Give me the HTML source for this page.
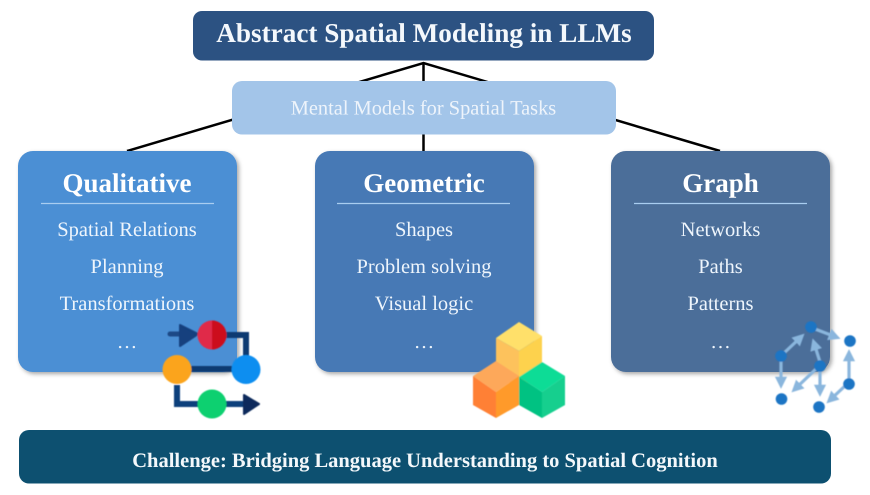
<!DOCTYPE html>
<html><head><meta charset="utf-8"><style>
html,body{margin:0;padding:0;background:#fff}
svg{display:block}
text{font-family:"Liberation Serif",serif;text-anchor:middle;text-rendering:geometricPrecision}
</style></head><body>
<svg width="870" height="495" viewBox="0 0 870 495" xmlns="http://www.w3.org/2000/svg">
<defs>
<filter id="s" x="-10%" y="-10%" width="125%" height="125%"><feDropShadow dx="2" dy="2" stdDeviation="2" flood-color="#000" flood-opacity=".35"/></filter>
<marker id="a" viewBox="0 0 10 10" refX="6" refY="5" markerWidth="3.800" markerHeight="3.800" orient="auto"><path d="M0 0L10 5L0 10z" fill="#8ab6dd"/></marker>
<filter id="b" x="-5%" y="-5%" width="110%" height="110%"><feGaussianBlur stdDeviation=".5"/></filter>
</defs>
<rect width="870" height="495" fill="#fff"/>
<g stroke="#000" stroke-width="2.500" fill="none">
<path d="M127 151L423.500 63L720 151"/><path d="M423.500 63V151"/>
</g>
<rect x="193" y="11" width="461" height="49.500" rx="9" fill="#2c5282"/>
<text x="424" y="42" font-size="27.200" font-weight="700" fill="#f4f8fc">Abstract Spatial Modeling in LLMs</text>
<rect x="232" y="81" width="384" height="53.500" rx="10" fill="#a3c5e9"/>
<text x="423.500" y="114.500" font-size="20.400" fill="#eef4fb">Mental Models for Spatial Tasks</text>

<rect x="18" y="151" width="219" height="221" rx="15" fill="#4b8fd4" filter="url(#s)"/>
<rect x="315" y="151" width="219" height="221" rx="15" fill="#4779b5" filter="url(#s)"/>
<rect x="611" y="151" width="219" height="221" rx="15" fill="#4c6e99" filter="url(#s)"/>

<g fill="#fff" font-weight="700" font-size="27">
<text x="127" y="192">Qualitative</text>
<text x="424" y="192">Geometric</text>
<text x="720.500" y="192">Graph</text>
</g>
<g stroke="#a9cdf0" stroke-width="1.200">
<path d="M41 203.500H214"/><path d="M337 203.500H510"/><path d="M634 203.500H807"/>
</g>
<g fill="#eef5fc" font-size="20.500">
<text x="127" y="236">Spatial Relations</text>
<text x="127" y="273">Planning</text>
<text x="127" y="310">Transformations</text>
<text x="127" y="348">…</text>
<text x="424" y="236">Shapes</text>
<text x="424" y="273">Problem solving</text>
<text x="424" y="310">Visual logic</text>
<text x="424" y="348">…</text>
<text x="720.500" y="236">Networks</text>
<text x="720.500" y="273">Paths</text>
<text x="720.500" y="310">Patterns</text>
<text x="720.500" y="348">…</text>
</g>

<g filter="url(#b)">
<path d="M170 334H190" stroke="#1c4a86" stroke-width="5" stroke-linecap="round" fill="none"/>
<path d="M180 325L198 334L180 346z" fill="#12407e" stroke="#12407e" stroke-width="2" stroke-linejoin="round"/>
<path d="M224 335H246V362" stroke="#0c3a72" stroke-width="6" fill="none"/>
<path d="M190 369H232" stroke="#0c3a72" stroke-width="6" fill="none"/>
<path d="M177 385V404H245" stroke="#0f3f7c" stroke-width="6" fill="none"/>
<path d="M244 395L259 404L244 414z" fill="#0a2a5c" stroke="#0a2a5c" stroke-width="2" stroke-linejoin="round"/>
<circle cx="212" cy="335" r="14.500" fill="#e0294a"/>
<path d="M212 320.500a14.500 14.500 0 0 1 0 29z" fill="#cc0a1c"/>
<circle cx="177" cy="369.500" r="14.500" fill="#fba41e"/>
<circle cx="246" cy="369.500" r="14.500" fill="#0d8ef0"/>
<circle cx="212" cy="404" r="14.500" fill="#0cd070"/>
</g>

<g filter="url(#b)">
<path d="M519 351L496 338L519 322L542 336z" fill="#ffe06a"/>
<path d="M496 338V374L519 389V351z" fill="#fdc25c"/>
<path d="M519 351V389L542 374V336z" fill="#fdd24e"/>
<path d="M496 361L473 376L496 392L519 376z" fill="#fda85a"/>
<path d="M473 376V405L496 418V392z" fill="#ff8036"/>
<path d="M496 392V418L519 405V376z" fill="#ff9a2c"/>
<path d="M542 362L519 377L542 392L565 376z" fill="#10dc96"/>
<path d="M519 377V405L542 418V392z" fill="#06c282"/>
<path d="M542 392V418L565 405V376z" fill="#12cf8e"/>
</g>

<g filter="url(#b)">
<g stroke="#8ab6dd" stroke-width="3.200" fill="none" marker-end="url(#a)">
<path d="M784 353L801 337"/>
<path d="M815 329L836 337"/>
<path d="M820 362L814 343"/>
<path d="M781 358V384"/>
<path d="M817 368L795 389"/>
<path d="M820 368V392"/>
<path d="M849 380V354"/>
<path d="M846 385L830 400"/>
</g>
<g fill="#1b74c4">
<circle cx="811" cy="327" r="5.800"/>
<circle cx="781" cy="356" r="5.800"/>
<circle cx="820" cy="366" r="5.800"/>
<circle cx="850" cy="341" r="5.800"/>
<circle cx="849" cy="384" r="5.800"/>
<circle cx="781.500" cy="399" r="5.800"/>
<circle cx="819" cy="407" r="5.800"/>
</g>
</g>

<rect x="19" y="430" width="812" height="53.500" rx="10" fill="#0d5070"/>
<text x="425" y="467" font-size="20.500" font-weight="700" fill="#f4f8fb">Challenge: Bridging Language Understanding to Spatial Cognition</text>
</svg>
</body></html>
